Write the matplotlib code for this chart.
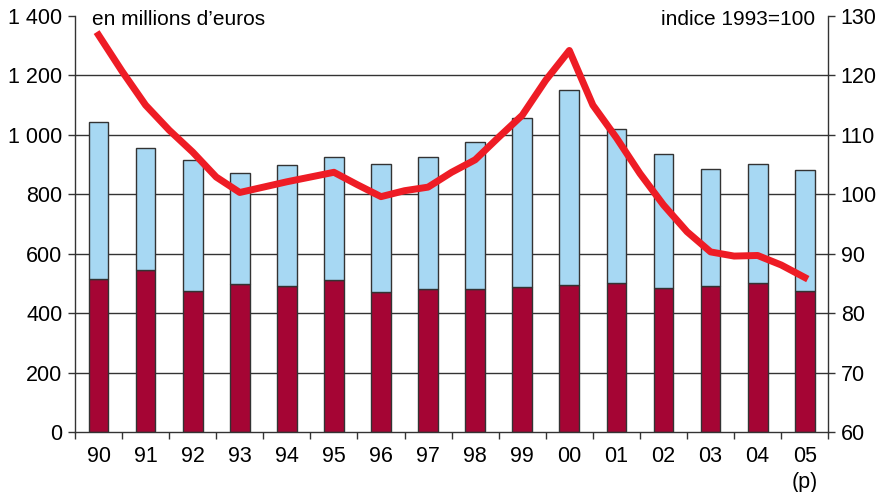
import numpy as np
import matplotlib.pyplot as plt
from matplotlib.ticker import FixedLocator

plt.rcParams['font.family'] = ['Liberation Sans', 'DejaVu Sans']

# années (axe des x)
years = ['90', '91', '92', '93', '94', '95', '96', '97',
         '98', '99', '00', '01', '02', '03', '04', '05\n(p)']

# barres : partie basse (bordeaux) et total (bleu clair), en millions d'euros
bottom_part = [515, 545, 475, 498, 491, 513, 471, 481,
               481, 488, 495, 502, 485, 491, 502, 475]
total = [1044, 956, 916, 872, 899, 926, 902, 926,
         976, 1057, 1152, 1020, 936, 886, 902, 882]

# indice 1993=100, lu tous les semestres
index_pos = np.arange(0, 15.5, 0.5)
index_vals = [126.8, 120.7, 115.0, 110.8, 107.1, 102.9, 100.3, 101.2,
              102.1, 102.9, 103.7, 101.6, 99.6, 100.6, 101.2, 103.7,
              105.8, 109.6, 113.3, 119.2, 124.2, 115.0, 109.5, 103.5,
              98.2, 93.7, 90.3, 89.6, 89.7, 88.1, 86.0]

fig = plt.figure(figsize=(8.79, 4.92), dpi=100)
ax = fig.add_axes([0.0853, 0.122, 0.857, 0.8455])

x = np.arange(len(years))
w = 0.42
upper = [t - b for t, b in zip(total, bottom_part)]
ax.bar(x, bottom_part, width=w, color='#A50534', edgecolor='#333333', linewidth=1.0, zorder=2)
ax.bar(x, upper, bottom=bottom_part, width=w, color='#A7D8F3', edgecolor='#333333', linewidth=1.0, zorder=2)

ax.set_xlim(-0.5, len(years) - 0.5)
ax.set_ylim(0, 1400)
ax.set_yticks(range(0, 1401, 200))
ax.set_yticklabels(['0', '200', '400', '600', '800', '1 000', '1 200', '1 400'])
for v in range(200, 1201, 200):
    ax.axhline(v, color='#333333', linewidth=1.0, zorder=1)

ax.set_xticks(x)
ax.set_xticklabels(years, va='top', linespacing=1.35)
ax.xaxis.set_minor_locator(FixedLocator(np.arange(-0.5, len(years), 1)))
ax.tick_params(axis='x', which='major', length=0, pad=10, labelsize=15.5)
ax.tick_params(axis='x', which='minor', length=5, width=1, color='#333333', direction='out')
ax.tick_params(axis='y', length=5, width=1, color='#333333', labelsize=15.5, pad=4)

for side in ['top', 'right']:
    ax.spines[side].set_visible(False)
for side in ['left', 'bottom']:
    ax.spines[side].set_color('#333333')
    ax.spines[side].set_linewidth(1.0)

ax2 = ax.twinx()
ax2.plot(index_pos, index_vals, color='#EE1C25', linewidth=5, solid_joinstyle='round', zorder=5)
ax2.set_ylim(60, 130)
ax2.set_yticks(range(60, 131, 10))
ax2.tick_params(axis='y', length=5, width=1, color='#333333', labelsize=15.5, pad=4)
for side in ['top', 'left', 'bottom']:
    ax2.spines[side].set_visible(False)
ax2.spines['right'].set_color('#333333')
ax2.spines['right'].set_linewidth(1.0)

fig.text(0.105, 0.96, "en millions d\u2019euros", fontsize=15, va='center', ha='left')
fig.text(0.927, 0.96, "indice 1993=100", fontsize=15, va='center', ha='right')

fig.savefig('out.png', dpi=100)
